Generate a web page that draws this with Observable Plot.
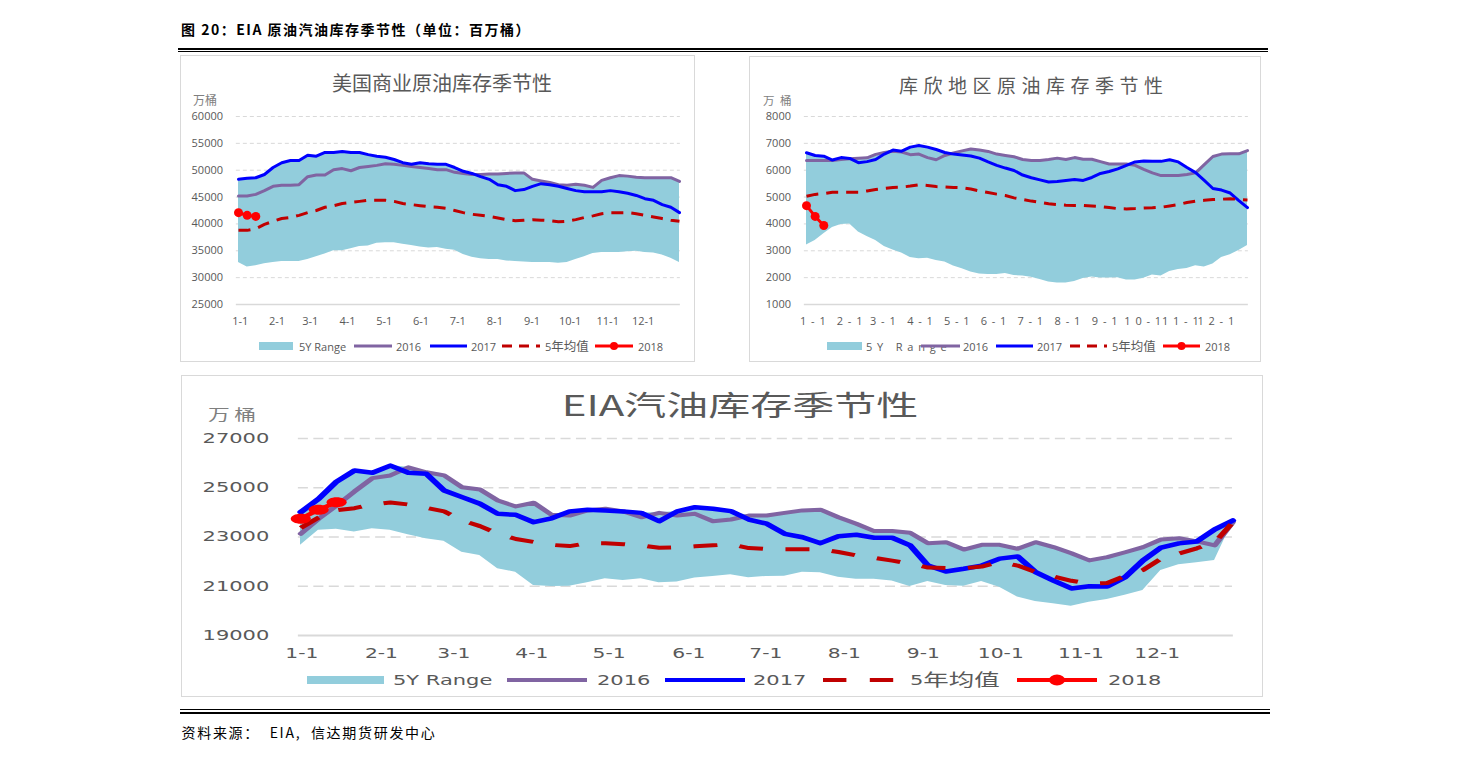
<!DOCTYPE html>
<html><head><meta charset="utf-8">
<script src="https://cdn.jsdelivr.net/npm/d3@7"></script>
<script src="https://cdn.jsdelivr.net/npm/@observablehq/plot@0.6"></script>
<style>
html,body{margin:0;padding:0;background:#fff;}
body{width:1458px;height:763px;position:relative;overflow:hidden;font-family:"Noto Sans CJK SC","Noto Sans",sans-serif;}
.a{position:absolute;white-space:pre;line-height:1;}
.box{position:absolute;box-sizing:border-box;border:1px solid #D9D9D9;}
</style></head><body>
<script>
// ---------------- DATA ----------------
const monthLabels = ["1-1","2-1","3-1","4-1","5-1","6-1","7-1","8-1","9-1","10-1","11-1","12-1"];
// tick positions (in week-index units)
const tickWeeksTop = [0.2,4.45,8.3,12.6,16.85,21.1,25.35,29.65,33.95,38.35,42.7,46.8];
const tickWeeksGas = [0.06,4.5,8.54,12.89,17.2,21.65,25.95,30.33,34.74,39.06,43.53,47.79];
const crudeTicks = [25000,30000,35000,40000,45000,50000,55000,60000];
const cushTicks = [1000,2000,3000,4000,5000,6000,7000,8000];
const gasTicks = [19000,21000,23000,25000,27000];

// 美国商业原油 (万桶), weekly
const crudeHi = [48300,48500,48600,49200,50500,51400,51800,51800,52800,52600,53300,53300,53500,53300,53300,52900,52600,52400,52000,51400,51100,51400,51200,51100,51100,50500,49800,49400,49200,49300,49300,49400,49500,49500,48300,48000,47700,47300,47200,47400,47200,46800,48100,48600,49000,48900,48700,48600,48600,48600,48600,47900];
const crudeLo = [32800,32000,32200,32600,32800,33000,33000,33000,33400,33900,34400,35000,35000,35400,35800,35900,36400,36500,36500,36200,36000,35700,35500,35600,35300,35100,34300,33800,33500,33400,33400,33100,33000,32900,32800,32800,32800,32700,32800,33400,33900,34500,34700,34700,34700,34800,34900,34700,34600,34200,33600,32800];
const crude2016 = [45200,45200,45500,46200,47000,47200,47200,47300,48800,49100,49100,50100,50300,49900,50500,50700,50900,51200,51100,50900,50700,50500,50300,50100,50100,49600,49400,49200,49200,49300,49300,49400,49500,49500,48300,48000,47700,47300,47200,47400,47200,46800,48100,48600,49000,48900,48700,48600,48600,48600,48600,47900];
const crude2017 = [48300,48500,48600,49200,50500,51400,51800,51800,52800,52600,53300,53300,53500,53300,53300,52900,52600,52400,52000,51400,51100,51400,51200,51100,51100,50500,49800,49400,48800,48300,47300,47000,46200,46400,47000,47500,47300,47000,46600,46200,46000,46000,46000,46200,46000,45700,45300,44700,44400,43600,43100,42100];
const crudeAvg = [38800,38800,39100,39900,40500,41000,41200,41600,42100,42500,43100,43400,43800,44000,44200,44400,44400,44400,44200,43800,43600,43400,43200,43100,42900,42500,42100,41800,41600,41400,41100,40800,40600,40700,40800,40700,40600,40400,40500,40800,41200,41500,41900,42100,42100,42100,41900,41600,41300,41000,40700,40500];
const crude2018 = [42100,41600,41400];

// 库欣地区原油 (万桶), weekly
const cushHi = [6650,6550,6520,6380,6470,6440,6450,6460,6590,6660,6750,6710,6860,6920,6860,6770,6660,6640,6720,6790,6750,6700,6600,6550,6500,6400,6360,6360,6400,6450,6400,6470,6410,6410,6320,6230,6230,6230,6310,6340,6330,6330,6390,6310,6100,5910,6210,6510,6600,6610,6610,6730];
const cushLo = [3220,3380,3630,3870,3980,4000,3700,3530,3380,3160,3030,2920,2750,2700,2720,2640,2580,2430,2330,2210,2140,2120,2120,2150,2080,2060,2010,1930,1840,1800,1800,1860,1970,2020,1990,1990,2000,1910,1910,1980,2100,2060,2230,2300,2340,2440,2400,2510,2750,2850,3010,3200];
const cush2016 = [6360,6360,6360,6360,6400,6430,6450,6460,6590,6660,6710,6680,6580,6600,6470,6390,6550,6640,6720,6790,6750,6700,6600,6550,6500,6400,6360,6360,6400,6450,6400,6470,6410,6410,6320,6230,6230,6230,6180,6030,5900,5800,5800,5800,5840,5900,6210,6510,6600,6610,6610,6730];
const cush2017 = [6650,6550,6520,6380,6470,6440,6280,6320,6400,6600,6750,6710,6860,6920,6860,6770,6660,6600,6570,6530,6450,6310,6180,6080,5990,5820,5720,5640,5560,5580,5620,5650,5620,5730,5880,5950,6050,6180,6310,6340,6330,6330,6390,6310,6100,5910,5620,5320,5260,5150,4870,4610];
const cushAvg = [5030,5100,5130,5180,5180,5180,5180,5230,5280,5320,5360,5370,5410,5460,5430,5390,5380,5360,5350,5300,5230,5170,5110,5060,4970,4910,4850,4800,4750,4720,4700,4690,4690,4670,4650,4610,4570,4560,4570,4590,4600,4620,4670,4720,4800,4850,4880,4910,4920,4940,4910,4890];
const cush2018 = [4680,4280,3940];

// EIA 汽油 (万桶), weekly
const gasHi = [24010,24550,25250,25700,25610,25900,25830,25630,25500,25020,24930,24480,24240,24390,23900,24040,24110,24150,24040,23980,23980,24040,24210,24150,24050,23870,23870,23980,24080,24110,23800,23540,23240,23240,23170,22750,22790,22490,22680,22680,22520,22790,22590,22340,22050,22180,22380,22590,22900,22950,22820,23310,23670];
const gasLo = [22660,23270,23310,23200,23330,23270,23090,22930,22830,22380,22250,21710,21570,21030,20990,21000,21140,21300,21230,21300,21140,21170,21330,21400,21470,21340,21400,21410,21570,21550,21370,21280,21280,21210,20990,21190,21030,21000,21190,20960,20560,20380,20290,20190,20350,20460,20630,20830,21640,21870,21950,22050,23600];
const gas2016 = [23130,23740,24280,24850,25390,25500,25830,25630,25500,25020,24930,24480,24240,24390,23900,23870,24080,24150,24040,23800,23980,23870,23940,23640,23710,23870,23870,23980,24080,24110,23800,23540,23240,23240,23170,22750,22790,22490,22680,22680,22520,22790,22590,22340,22050,22180,22380,22590,22900,22950,22820,22660,23600];
const gas2017 = [24010,24550,25250,25700,25610,25900,25610,25570,24890,24620,24350,23940,23900,23600,23760,24040,24110,24080,24040,23980,23640,24040,24210,24150,24050,23710,23540,23130,22990,22750,23030,23090,22970,22970,22660,21840,21600,21710,21840,22120,22210,21570,21230,20910,21000,20990,21370,22050,22570,22740,22820,23310,23670];
const gasAvg = [23370,23790,24090,24170,24330,24400,24320,24180,24040,23670,23440,23140,22920,22800,22680,22630,22750,22750,22710,22660,22560,22580,22620,22660,22700,22550,22510,22500,22500,22500,22390,22250,22150,22040,21920,21760,21740,21730,21800,21980,21840,21580,21400,21220,21110,21130,21420,21660,22120,22330,22540,22780,23590];
const gas2018 = [23740,24110,24410];

// ---------------- COLORS ----------------
const C_RANGE = "#92CDDC", C_2016 = "#8064A2", C_2017 = "#0000FF", C_AVG = "#C00000", C_2018 = "#FF0000";
const GRID = "#D9D9D9", TXT = "#595959", UNIT = "#7F7F7F";

// ---------------- HELPERS ----------------
function box(l,t,w,h,bw){const d=document.createElement("div");d.className="box";Object.assign(d.style,{left:l+"px",top:t+"px",width:w+"px",height:h+"px"});if(bw)d.style.borderWidth=bw;document.body.appendChild(d);}
function bar(l,t,w,h){const d=document.createElement("div");Object.assign(d.style,{position:"absolute",left:l+"px",top:t+"px",width:w+"px",height:h+"px",background:"#000"});document.body.appendChild(d);}
function txt(parent,s,x,cy,css,anchor){const d=document.createElement("div");d.className="a";d.textContent=s;Object.assign(d.style,css||{});d.style.left=x+"px";d.style.top=cy+"px";d.style.transform=anchor==="middle"?"translate(-50%,-50%)":"translateY(-50%)";parent.appendChild(d);return d;}
function place(parent,node,l,t){const d=document.createElement("div");Object.assign(d.style,{position:"absolute",left:l+"px",top:t+"px"});d.appendChild(node);parent.appendChild(d);return d;}
function legend(parent,l,t,w,h,items,fam){
  const svg=d3.select(parent).append("svg").attr("width",w).attr("height",h).style("position","absolute").style("left",l+"px").style("top",t+"px").style("overflow","visible");
  for(const it of items){
    if(it.t==="rect") svg.append("rect").attr("x",it.x1).attr("y",it.cy-it.h/2).attr("width",it.x2-it.x1).attr("height",it.h).attr("fill",it.c);
    else if(it.t==="line"){
      const ln=svg.append("line").attr("x1",it.x1).attr("x2",it.x2).attr("y1",it.cy).attr("y2",it.cy).attr("stroke",it.c).attr("stroke-width",it.w);
      if(it.dash) ln.attr("stroke-dasharray",it.dash);
      if(it.dot) svg.append("circle").attr("cx",(it.x1+it.x2)/2).attr("cy",it.cy).attr("r",it.dot).attr("fill",it.c);
    } else {
      const te=svg.append("text").attr("x",it.x).attr("y",it.cy).attr("dominant-baseline","central").attr("fill",TXT).attr("font-family",fam).attr("font-size",it.size);
      if(it.ls) te.attr("letter-spacing",it.ls);
      for(const p of it.parts) te.append("tspan").attr("font-size",p.size||it.size).text(p.s);
    }
  }
}
const rows = (hi,lo,a16,a17,avg)=>hi.map((v,i)=>({w:i,hi:v,lo:lo[i],y16:a16[i],y17:a17[i],avg:avg[i]}));
const pts = arr=>arr.map((v,i)=>({w:i,v}));

// ---------------- PAGE HEADER / FOOTER ----------------
txt(document.body,"图 20：EIA 原油汽油库存季节性（单位：百万桶）",181,28.5,{fontSize:"14px",fontWeight:"700",letterSpacing:"1.5px",color:"#000"});
bar(178,47.5,1090,2); bar(178,50.8,1090,1);
bar(180,709,1090,1.3); bar(180,711.7,1090,2);
txt(document.body,"资料来源：  EIA,  信达期货研发中心",181.5,731.5,{fontSize:"14px",letterSpacing:"1.7px",color:"#000"});

// ---------------- PANEL 1 ----------------
box(180,55,515,307);
txt(document.body,"美国商业原油库存季节性",332,83,{fontSize:"20px",color:TXT});
txt(document.body,"万桶",193,100,{fontSize:"12px",color:UNIT});
function topPlot(hi,lo,a16,a17,avg,a18,ydom,yticks,ml,mr,w,dash){
  const data=rows(hi,lo,a16,a17,avg), d18=pts(a18);
  const lbl=new Map(tickWeeksTop.map((t,i)=>[t,monthLabels[i]]));
  return Plot.plot({
    width:w,height:240,marginLeft:ml,marginRight:mr,marginTop:21,marginBottom:31,
    x:{domain:[0,51],label:null},y:{domain:ydom,label:null},
    style:{fontFamily:"'Open Sans',sans-serif",fontSize:"11px",color:TXT,background:"transparent",overflow:"visible"},
    marks:[
      Plot.ruleY(yticks.slice(1),{y:d=>d,x1:()=>-0.25,x2:()=>51.1,stroke:GRID,strokeDasharray:"4,3"}),
      Plot.ruleY([ydom[0]],{y:d=>d,x1:()=>-0.25,x2:()=>51.1,stroke:GRID,strokeWidth:1.5}),
      Plot.areaY(data,{x:"w",y1:"lo",y2:"hi",fill:C_RANGE}),
      Plot.line(data,{x:"w",y:"y16",stroke:C_2016,strokeWidth:3}),
      Plot.line(data,{x:"w",y:"y17",stroke:C_2017,strokeWidth:3}),
      Plot.line(data,{x:"w",y:"avg",stroke:C_AVG,strokeWidth:3,strokeDasharray:dash,strokeLinecap:"butt"}),
      Plot.line(d18,{x:"w",y:"v",stroke:C_2018,strokeWidth:3}),
      Plot.dot(d18,{x:"w",y:"v",r:4.5,fill:C_2018}),
      Plot.axisY({ticks:yticks,tickSize:0,tickPadding:15.5,tickFormat:d=>String(d),label:null}),
      Plot.axisX({ticks:tickWeeksTop,tickSize:0,tickPadding:13,tickFormat:d=>lbl.get(d),label:null})
    ]
  });
}
const p1=topPlot(crudeHi,crudeLo,crude2016,crude2017,crudeAvg,crude2018,[25000,60000],crudeTicks,58,16,515,"12,8");
place(document.body,p1,180,95);
legend(document.body,180,55,515,307,[
  {t:"rect",x1:79,x2:113,cy:291,h:8,c:C_RANGE},
  {t:"text",x:119,cy:291,size:11,parts:[{s:"5Y Range"}]},
  {t:"line",x1:174,x2:212,cy:291,w:3,c:C_2016},
  {t:"text",x:216,cy:291,size:11,parts:[{s:"2016"}]},
  {t:"line",x1:250,x2:287,cy:291,w:3,c:C_2017},
  {t:"text",x:291,cy:291,size:11,parts:[{s:"2017"}]},
  {t:"line",x1:322,x2:360,cy:291,w:3,c:C_AVG,dash:"10,7"},
  {t:"text",x:365,cy:291,size:11,parts:[{s:"5"},{s:"年均值",size:12.5}]},
  {t:"line",x1:415,x2:453,cy:291,w:3,c:C_2018,dot:4},
  {t:"text",x:458,cy:291,size:11,parts:[{s:"2018"}]}
],"'Open Sans','Noto Sans CJK SC',sans-serif");

// ---------------- PANEL 2 ----------------
box(749,56,512,306);
txt(document.body,"库欣地区原油库存季节性",899,84,{fontSize:"19px",letterSpacing:"5.5px",color:TXT});
txt(document.body,"万桶",763,101,{fontSize:"11.5px",letterSpacing:"5.5px",color:UNIT});
const p2=topPlot(cushHi,cushLo,cush2016,cush2017,cushAvg,cush2018,[1000,8000],cushTicks,57,14,512,"12,8");
place(document.body,p2,749,95);
const mset=new Set(monthLabels);
p2.querySelectorAll("text").forEach(t=>{if(mset.has(t.textContent)){t.setAttribute("letter-spacing","4.8");t.setAttribute("dx","7");}});
legend(document.body,749,56,512,306,[
  {t:"rect",x1:78,x2:113,cy:290,h:8,c:C_RANGE},
  {t:"text",x:117,cy:290,size:11,ls:4.8,parts:[{s:"5Y Range"}]},
  {t:"line",x1:172,x2:211,cy:290,w:3,c:C_2016},
  {t:"text",x:214,cy:290,size:11,parts:[{s:"2016"}]},
  {t:"line",x1:247,x2:284,cy:290,w:3,c:C_2017},
  {t:"text",x:288,cy:290,size:11,parts:[{s:"2017"}]},
  {t:"line",x1:321,x2:358,cy:290,w:3,c:C_AVG,dash:"10,7"},
  {t:"text",x:363,cy:290,size:11,parts:[{s:"5"},{s:"年均值",size:12.5}]},
  {t:"line",x1:414,x2:451,cy:290,w:3,c:C_2018,dot:4},
  {t:"text",x:456,cy:290,size:11,parts:[{s:"2018"}]}
],"'Open Sans','Noto Sans CJK SC',sans-serif");

// ---------------- PANEL 3 (horizontally stretched like the source) ----------------
box(181,375,1082,322,"1.5px");
const S=1.5, W3=1082/S;
const c3=document.createElement("div");
Object.assign(c3.style,{position:"absolute",left:"181px",top:"375px",width:W3+"px",height:"322px",transform:`scaleX(${S})`,transformOrigin:"0 0"});
document.body.appendChild(c3);
txt(c3,"EIA汽油库存季节性",372.7,29,{fontSize:"28px",color:TXT},"middle");
txt(c3,"万桶",18,39,{fontSize:"14.5px",letterSpacing:"3px",color:UNIT});
const ellipse={draw(ctx){const rx=6.7,ry=5,k=0.5523;ctx.moveTo(rx,0);ctx.bezierCurveTo(rx,ry*k,rx*k,ry,0,ry);ctx.bezierCurveTo(-rx*k,ry,-rx,ry*k,-rx,0);ctx.bezierCurveTo(-rx,-ry*k,-rx*k,-ry,0,-ry);ctx.bezierCurveTo(rx*k,-ry,rx,-ry*k,rx,0);ctx.closePath();}};
{
  const data=rows(gasHi,gasLo,gas2016,gas2017,gasAvg), d18=pts(gas2018);
  const lbl=new Map(tickWeeksGas.map((t,i)=>[t,monthLabels[i]]));
  const p3=Plot.plot({
    width:W3,height:250,marginLeft:(300-181)/S,marginRight:W3-(1232-181)/S,marginTop:18,marginBottom:35,
    x:{domain:[0,52],label:null},y:{domain:[19000,27000],label:null},
    style:{fontFamily:"'DejaVu Sans',sans-serif",fontSize:"14px",color:TXT,background:"transparent",overflow:"visible"},
    marks:[
      Plot.ruleY(gasTicks.slice(1),{y:d=>d,x1:()=>-0.12,x2:()=>52,stroke:GRID,strokeWidth:1.3,strokeDasharray:"6.7,3.6"}),
      Plot.ruleY([19000],{y:d=>d,x1:()=>-0.12,x2:()=>52.05,stroke:GRID,strokeWidth:2}),
      Plot.areaY(data,{x:"w",y1:"lo",y2:"hi",fill:C_RANGE}),
      Plot.line(data,{x:"w",y:"y16",stroke:C_2016,strokeWidth:4}),
      Plot.line(data,{x:"w",y:"y17",stroke:C_2017,strokeWidth:4.5}),
      Plot.line(data,{x:"w",y:"avg",stroke:C_AVG,strokeWidth:4,strokeDasharray:"16,15",strokeLinecap:"butt"}),
      Plot.line(d18,{x:"w",y:"v",stroke:C_2018,strokeWidth:4}),
      Plot.dot(d18,{x:"w",y:"v",symbol:ellipse,r:6,fill:C_2018,stroke:"none"}),
      Plot.axisY({ticks:gasTicks,tickSize:0,tickPadding:21,tickFormat:d=>String(d),label:null}),
      Plot.axisX({ticks:tickWeeksGas,tickSize:0,tickPadding:13.3,fontSize:13.5,tickFormat:d=>lbl.get(d),label:null})
    ]
  });
  place(c3,p3,0,45);
}
const u=x=>(x-181)/S;
legend(c3,0,0,W3,322,[
  {t:"rect",x1:u(307),x2:u(384),cy:305,h:8,c:C_RANGE},
  {t:"text",x:u(393),cy:305,size:14,parts:[{s:"5Y Range"}]},
  {t:"line",x1:u(507),x2:u(587),cy:305,w:4,c:C_2016},
  {t:"text",x:u(597),cy:305,size:14,parts:[{s:"2016"}]},
  {t:"line",x1:u(665),x2:u(745),cy:305,w:4,c:C_2017},
  {t:"text",x:u(753),cy:305,size:14,parts:[{s:"2017"}]},
  {t:"line",x1:u(823),x2:u(895),cy:305,w:4,c:C_AVG,dash:"15.6,15.6"},
  {t:"text",x:u(910),cy:305,size:14,parts:[{s:"5"},{s:"年均值",size:17}]},
  {t:"line",x1:u(1017),x2:u(1097),cy:305,w:4,c:C_2018,dot:5.4},
  {t:"text",x:u(1108),cy:305,size:14,parts:[{s:"2018"}]}
],"'DejaVu Sans','Noto Sans CJK SC',sans-serif");
</script></body></html>
